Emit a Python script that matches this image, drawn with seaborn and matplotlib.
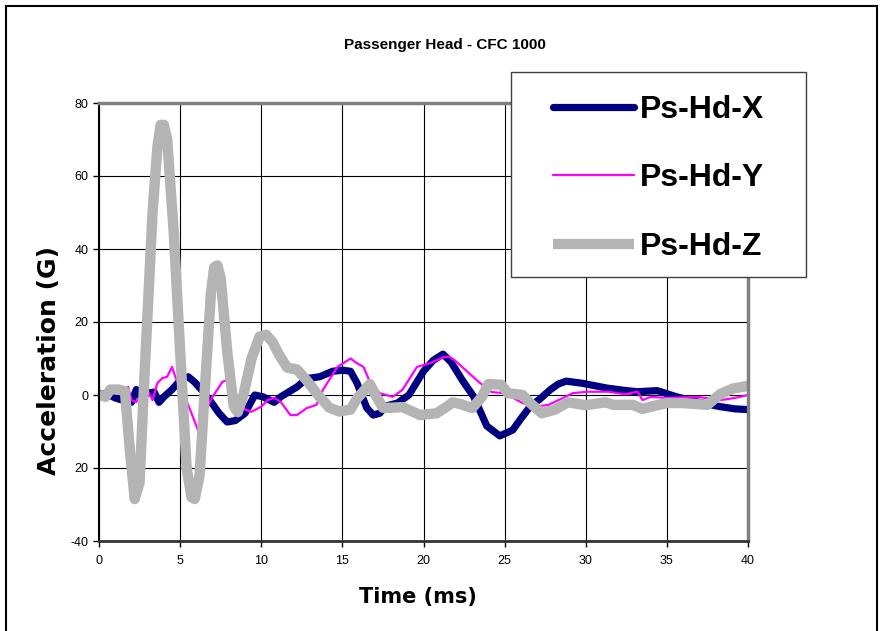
import matplotlib
matplotlib.use('Agg')
import matplotlib.pyplot as plt
import seaborn as sns
from matplotlib.lines import Line2D
from matplotlib.patches import Rectangle

# values (time in ms, acceleration in G)
time_x = [0, 0.6, 1.0, 1.5, 2.0, 2.3, 2.5, 3.0, 3.4, 3.7, 4.0, 4.5, 5.0, 5.5, 5.9,
          6.5, 7.0, 7.4, 7.9, 8.4, 9.0, 9.6, 10.1, 10.8, 11.2, 12.2, 12.8, 13.6, 14.4,
          15.0, 15.5, 15.9, 16.5, 16.9, 17.3, 17.7, 18.4, 19.1, 20.0, 20.6, 21.2, 21.7,
          22.4, 23.1, 23.9, 24.7, 25.5, 26.0, 26.6, 27.2, 27.8, 28.3, 28.8, 29.8, 31.3,
          32.5, 33.2, 34.4, 35.6, 36.5, 37.5, 38.3, 39.2, 40.0]
accel_x = [0.5, 0, -0.8, -1.5, -2, 1.5, 0, 0.5, 0.8, -2, -0.5, 1.5, 4, 5, 3.5,
           0.5, -2.5, -5, -7.4, -7, -5, 0, -0.5, -2, -0.5, 2.2, 4.5, 5, 6.5,
           6.8, 6.5, 3.3, -3.5, -5.5, -5, -3, -2.2, 0, 6.5, 9.5, 11.2, 9,
           4, -0.5, -8.5, -11.2, -9.6, -6.5, -3, -1, 1.4, 3, 3.8, 3.2, 1.9,
           1.2, 0.9, 1.2, -0.5, -1.5, -2.5, -3.2, -3.8, -4]

time_y = [0, 1.0, 1.6, 1.8, 2.0, 2.3, 2.8, 3.0, 3.3, 3.6, 3.9, 4.2, 4.5, 4.7, 5.2,
          5.7, 6.1, 6.4, 7.0, 7.6, 7.9, 8.4, 9.0, 9.4, 10.0, 10.4, 10.8, 11.2, 11.8,
          12.2, 12.8, 13.4, 13.8, 14.7, 15.5, 15.9, 16.3, 16.7, 17.3, 18.1, 18.7, 19.6,
          20.4, 21.2, 21.6, 21.9, 22.6, 23.4, 24.2, 25.0, 26.1, 26.9, 27.7, 28.5, 29.2,
          30.1, 31.4, 32.4, 33.2, 33.5, 34.0, 35.0, 36.9, 38.3, 39.2, 40.0]
accel_y = [1, 1, 1.5, 2.2, -1.4, -1.9, 1.4, 1.2, -1.4, 3.3, 4.6, 5, 7.7, 5, 0.5,
           -5, -9.6, -6, -0.5, 3.6, 4.1, 0, -4, -4.6, -3.2, -1.4, -0.8, -1.9, -5.5,
           -5.5, -3.6, -2.7, 1.4, 7.7, 10, 8.7, 7.7, 3.6, 0.5, -0.5, 1.4, 7.7,
           8.7, 10.3, 10.5, 9.6, 6.8, 3.6, 0.8, 0.5, -2.2, -3.2, -2.7, -1, 0.5,
           0.9, 0.9, 0.2, 0.9, -1.4, -0.5, -0.8, -0.5, -1.4, -0.8, 0]

time_z = [0, 0.4, 0.7, 1.2, 1.6, 1.9, 2.2, 2.5, 2.8, 3.3, 3.6, 3.8, 4.0, 4.2, 4.6, 5.0,
          5.4, 5.7, 5.9, 6.2, 6.5, 6.9, 7.1, 7.3, 7.5, 7.9, 8.3, 8.55, 8.9, 9.4, 9.9, 10.3,
          10.7, 11.1, 11.6, 12.2, 12.8, 13.5, 14.2, 14.8, 15.5, 15.9, 16.3, 16.7, 17.1,
          17.5, 18.0, 18.7, 19.3, 19.8, 20.8, 21.3, 21.8, 22.3, 23.0, 23.6, 24.0, 24.8,
          25.2, 26.1, 26.7, 27.3, 28.1, 28.9, 30.0, 31.2, 31.7, 32.9, 33.5, 34.2, 35.0,
          36.0, 37.5, 38.3, 39.1, 40.0]
accel_z = [0, -0.5, 1.5, 1.5, 1, -15, -28.5, -24, 5, 50, 68, 74, 74, 70, 45, 12,
           -20, -28, -28.5, -22, 0, 28, 35, 35.5, 32, 12, -3, -4.7, 0, 10, 16, 16.5,
           14.5, 11, 7.5, 7, 4, 0, -3.5, -4.5, -4, -1, 1, 3, -0.5,
           -3.5, -3.5, -3.3, -4.5, -5.5, -5, -3.6, -2, -2.5, -3.6, -0.5, 3, 2.8,
           0.5, 0, -2.7, -5, -4, -2, -2.8, -2, -2.7, -2.7, -3.8, -3, -2.2,
           -2.2, -2.7, 0.3, 1.8, 2.5]

names = ['Ps-Hd-X', 'Ps-Hd-Y', 'Ps-Hd-Z']
colors = ['#000080', '#ff00ff', '#b4b4b4']
widths = [5.2, 1.6, 7.5]

x_ticks = [0, 5, 10, 15, 20, 25, 30, 35, 40]
y_ticks = [-40, -20, 0, 20, 40, 60, 80]
y_tick_labels = ['-40', '20', '0', '20', '40', '60', '80']

sns.set_style('white')
plt.rcParams['font.family'] = ['Liberation Sans', 'DejaVu Sans']
plt.rcParams.update({'text.color': 'black', 'axes.labelcolor': 'black',
                     'xtick.color': 'black', 'ytick.color': 'black'})

W, H = 883, 631
fig = plt.figure(figsize=(W / 100, H / 100), dpi=100)
ax = fig.add_axes([99 / W, 90 / H, 649 / W, 438 / H])

data = [(time_x, accel_x), (time_y, accel_y), (time_z, accel_z)]
for (t, a), c, lw in zip(data, colors, widths):
    sns.lineplot(x=t, y=a, ax=ax, color=c, linewidth=lw, legend=False,
                 solid_joinstyle='round', solid_capstyle='round')

ax.set_xlim(0, 40)
ax.set_ylim(-40, 80)
ax.set_xticks(x_ticks)
ax.set_yticks(y_ticks)
ax.set_yticklabels(y_tick_labels)
ax.set_xlabel('')
ax.set_ylabel('')
ax.set_axisbelow(True)
ax.grid(True, color='black', linewidth=0.8)
ax.tick_params(axis='both', direction='out', length=4, width=1, color='black',
               labelcolor='black', labelsize=9, bottom=True, left=True)
ax.tick_params(axis='y', pad=3.5)
ax.tick_params(axis='x', pad=6)

ax.spines['left'].set(color='black', linewidth=1.5)
ax.spines['bottom'].set(color='#333333', linewidth=2)
ax.spines['top'].set(color='#808080', linewidth=2.5)
ax.spines['right'].set(color='#808080', linewidth=2.5)

# legend box
fig.add_artist(Rectangle((511 / W, 1 - 277 / H), 295 / W, 205 / H, transform=fig.transFigure,
                         facecolor='white', edgecolor='#404040', linewidth=1, zorder=3))
handles = [Line2D([], [], color=c, linewidth=lw, solid_capstyle='round') for c, lw in zip(colors, widths)]
handles[2].set_solid_capstyle('butt')
fig.legend(handles, names, loc='center', bbox_to_anchor=(658.5 / W, 1 - 178.5 / H),
           frameon=False, prop=dict(family='Liberation Sans', weight='bold', size=23),
           handlelength=2.54, handletextpad=0.19, labelspacing=1.2)

# outer border
fig.add_artist(Rectangle((5.5 / W, -0.05), 872 / W, 1.05 - 6.5 / H, transform=fig.transFigure,
                         fill=False, edgecolor='black', linewidth=1.5))

fig.text(445 / W, 1 - 45 / H, 'Passenger Head - CFC 1000', ha='center', va='center',
         fontsize=11, weight='bold')
fig.text(49 / W, 1 - 361 / H, 'Acceleration (G)', rotation=90, ha='center', va='center',
         fontsize=18, weight='bold', family='DejaVu Sans')
fig.text(418 / W, 1 - 597 / H, 'Time (ms)', ha='center', va='center',
         fontsize=15, weight='bold', family='DejaVu Sans')

fig.savefig('out.png', dpi=100)
